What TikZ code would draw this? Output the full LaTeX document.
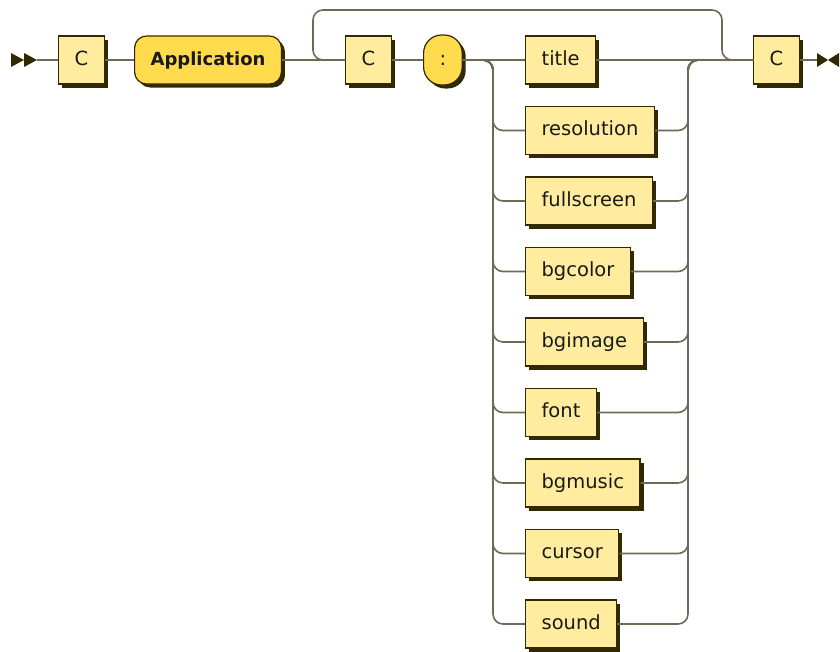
\documentclass[tikz,border=0pt]{standalone}
\usepackage{fontspec}
\setmainfont{DejaVu Sans}
\usetikzlibrary{shadows}
\definecolor{ntfill}{HTML}{FFEC9E}
\definecolor{tfill}{HTML}{FFDB4D}
\definecolor{ink}{HTML}{332900}
\definecolor{railc}{HTML}{6E6A56}
\definecolor{txt}{HTML}{1A1A1A}
\tikzset{
  ntbox/.style={draw=ink, line width=1.2pt, fill=ntfill, minimum height=48pt,
    inner xsep=16pt, anchor=west, text height=14pt, text depth=4pt, text=txt,
    font=\fontsize{19.5}{22}\selectfont,
    drop shadow={shadow xshift=3.5pt, shadow yshift=-3.5pt, fill=ink, opacity=1}},
  tbox/.style={ntbox, fill=tfill, rounded corners=12pt},
  rail/.style={draw=railc, line width=1.6pt, rounded corners=10pt},
  marker/.style={fill=ink}
}
\begin{document}
\begin{tikzpicture}[x=1pt,y=-1pt]
\useasboundingbox (0,0) rectangle (840,651);
% main line nodes
\node[ntbox] (C1) at (58,60) {C};
\node[tbox, font=\fontsize{18}{22}\selectfont\bfseries] (App) at (134,60) {Application};
\node[ntbox] (C2) at (345,60) {C};
\node[tbox, rounded corners=18pt, minimum height=50pt] (colon) at (423,60) {:};
\node[ntbox] (title) at (525,60) {title};
\node[ntbox] (C3) at (753,60) {C};
% choice rows
\foreach \n/\t/\y in {res/resolution/130.5, full/fullscreen/201, bgc/bgcolor/271.5,
  bgi/bgimage/342, font/font/412.5, bgm/bgmusic/483, cur/cursor/553.5, snd/sound/624}{
  \node[ntbox] (\n) at (525,\y) {\t};
}
\coordinate (s) at (37,60);
\coordinate (e) at (817,60);
\coordinate (lr) at (722,10);
\coordinate (ll) at (313,60);
% start / end markers
\fill[marker] (11,53) -- (24,60) -- (11,67) -- cycle;
\fill[marker] (24,53) -- (37,60) -- (24,67) -- cycle;
\fill[marker] (817,53) -- (828,60) -- (817,67) -- cycle;
\fill[marker] (839,53) -- (828,60) -- (839,67) -- cycle;
% connectors
\draw[rail] (s) -- (C1.west);
\draw[rail] (C1.east) -- (App.west);
\draw[rail] (App.east) -- (C2.west);
\draw[rail] (C2.east) -- (colon.west);
\draw[rail] (colon.east) -- (title.west);
\draw[rail] (title.east) -- (C3.west);
\draw[rail] (C3.east) -- (e);
\foreach \n in {res,full,bgc,bgi,font,bgm,cur,snd}{
  \draw[rail] (colon.east) -| (493,0 |- \n.west) -- (\n.west);
  \draw[rail] (\n.east) -| (688,60) -- (C3.west);
}
% loop
\draw[rail] (C3.west) -| (lr) -| (ll) -- (C2.west);
\end{tikzpicture}
\end{document}
